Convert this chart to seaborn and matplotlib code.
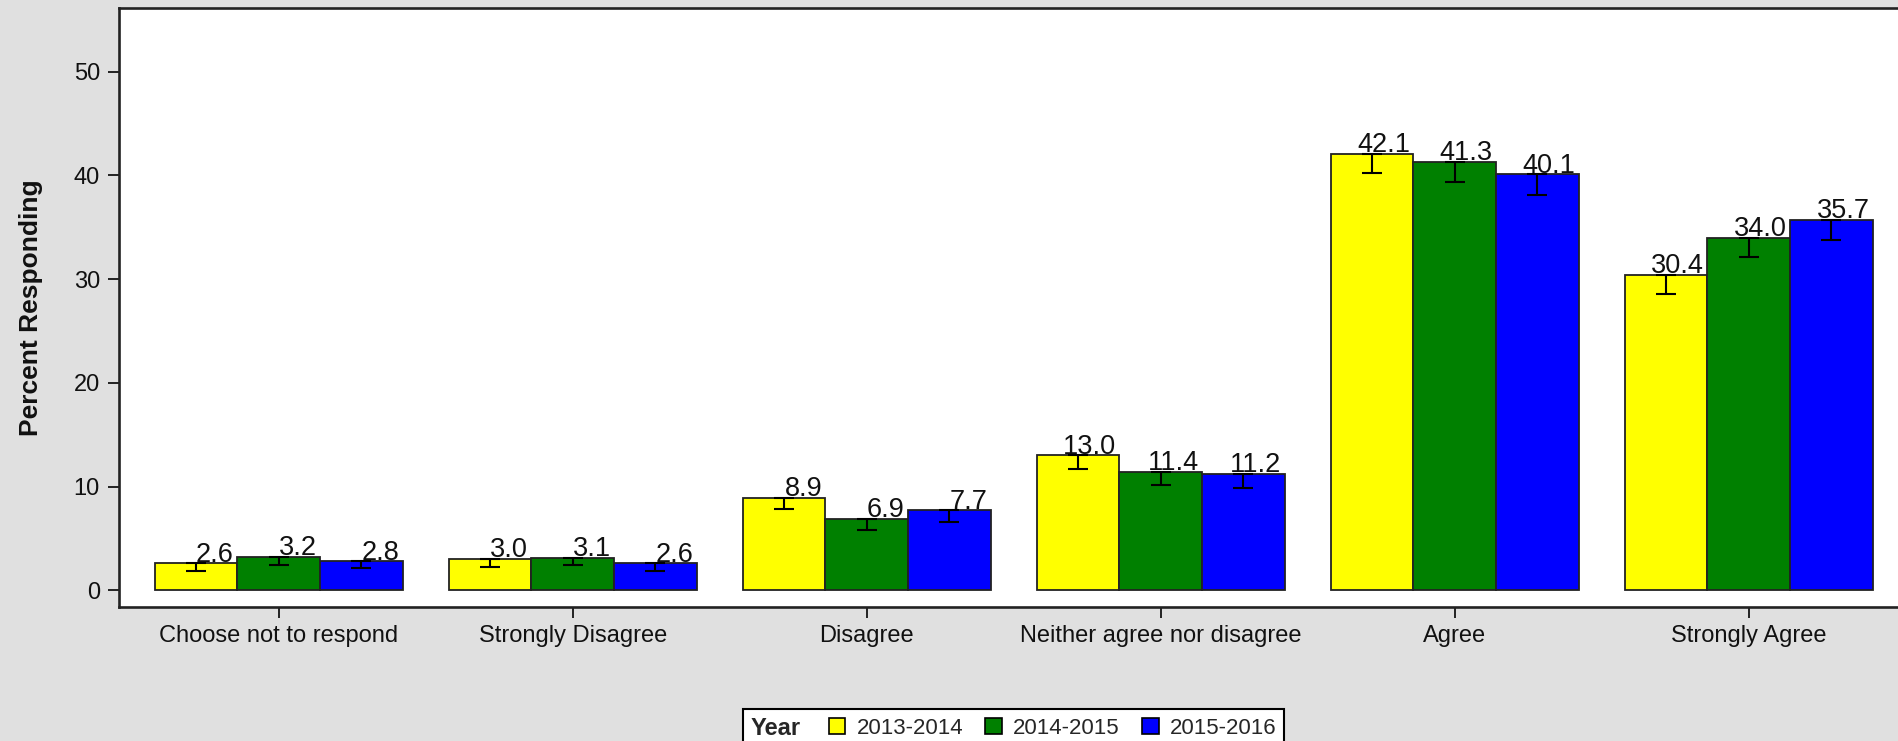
import matplotlib
matplotlib.use("Agg")
import matplotlib.pyplot as plt
import seaborn as sns
import pandas as pd
import numpy as np
from matplotlib.patches import Rectangle
from matplotlib.offsetbox import HPacker

# ---- data ----
categories = ["Choose not to respond", "Strongly Disagree", "Disagree",
              "Neither agree nor disagree", "Agree", "Strongly Agree"]
years = ["2013-2014", "2014-2015", "2015-2016"]
pct_2013 = [2.6, 3.0, 8.9, 13.0, 42.1, 30.4]
pct_2014 = [3.2, 3.1, 6.9, 11.4, 41.3, 34.0]
pct_2015 = [2.8, 2.6, 7.7, 11.2, 40.1, 35.7]
err_2013 = [0.7, 0.75, 1.1, 1.35, 1.9, 1.8]
err_2014 = [0.75, 0.7, 1.05, 1.3, 1.9, 1.9]
err_2015 = [0.65, 0.7, 1.1, 1.3, 2.0, 1.9]
colors = ["#FFFF00", "#008000", "#0000FF"]

values = [pct_2013, pct_2014, pct_2015]
errors = [err_2013, err_2014, err_2015]

df = pd.DataFrame({
    "Response": categories * 3,
    "Percent": pct_2013 + pct_2014 + pct_2015,
    "Year": [y for y in years for _ in categories],
})

sns.set_theme(style="white")
plt.rcParams["font.family"] = ["Liberation Sans", "DejaVu Sans"]

BG = "#E0E0E0"
fig = plt.figure(figsize=(18.99, 7.41), dpi=100, facecolor=BG)
ax = fig.add_axes([0.0625, 0.1813, 0.9426, 0.8075])
ax.set_facecolor("white")

sns.barplot(data=df, x="Response", y="Percent", hue="Year",
            order=categories, hue_order=years,
            palette=dict(zip(years, colors)), width=0.844, saturation=1,
            edgecolor="#222222", linewidth=1.3, errorbar=None,
            legend=False, ax=ax)

for cont, err, vals in zip(ax.containers, errors, values):
    xs = [b.get_x() + b.get_width() / 2 for b in cont]
    ax.errorbar(xs, vals, yerr=[err, [0] * len(err)], fmt="none",
                ecolor="black", elinewidth=1.5, capsize=7.5, capthick=1.5,
                zorder=5)
    for b, v in zip(cont, vals):
        ax.annotate(f"{v:.1f}", (b.get_x() + b.get_width() * 0.96, v),
                    xytext=(0, 1.2), textcoords="offset points",
                    ha="right", va="baseline", fontsize=19.5,
                    color="#111111", zorder=6)

ax.set_xlim(-0.544, 5.544)
ax.set_ylim(-1.58, 56.1)
ax.set_yticks([0, 10, 20, 30, 40, 50])
ax.set_xlabel("")
ax.set_ylabel("Percent Responding", fontsize=19, fontweight="bold",
              color="#111111")
ax.yaxis.set_label_coords(-0.0421, 0.5)

ax.tick_params(axis="both", which="major", direction="out", length=8,
               width=1.4, color="#222222", labelsize=17,
               labelcolor="#111111", bottom=True, left=True)
ax.tick_params(axis="y", pad=5.5)
ax.tick_params(axis="x", pad=5)
for s in ax.spines.values():
    s.set_color("#222222")
    s.set_linewidth(1.9)

handles = [Rectangle((0, 0), 1, 1, facecolor=c, edgecolor="black",
                     linewidth=1.2) for c in colors]
leg = fig.legend(handles, years, title="Year", ncol=3,
                 loc="upper center", bbox_to_anchor=(0.5337, 0.043),
                 fontsize=16, title_fontproperties={"weight": "bold", "size": 17},
                 frameon=True, fancybox=False, edgecolor="black",
                 facecolor="white", framealpha=1, borderpad=0.35,
                 handlelength=0.75, handleheight=0.75, handletextpad=0.5,
                 columnspacing=1.0, borderaxespad=0)
leg.get_frame().set_linewidth(1.5)
try:
    vp = leg._legend_box
    title_box, handle_box = vp.get_children()
    hp = HPacker(pad=vp.pad, sep=20, align="center",
                 children=[title_box, handle_box])
    hp.set_figure(fig)
    hp.set_offset(leg._findoffset)
    leg._legend_box = hp
except Exception:
    pass

fig.savefig("out.png", dpi=100, facecolor=BG)
